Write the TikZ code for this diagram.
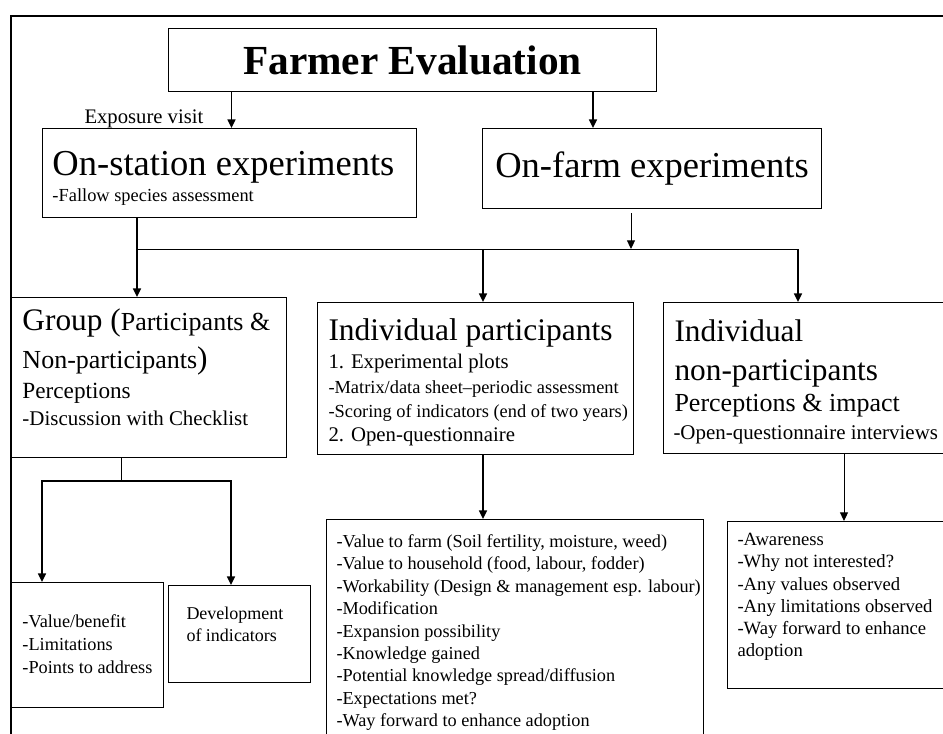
\documentclass[tikz,border=0pt]{standalone}
\usepackage{fontspec}
\setmainfont{Liberation Serif}
\usetikzlibrary{arrows.meta}

\tikzset{every picture/.style={line width=0.75pt}}
\tikzset{
  box/.style={draw, anchor=north west, inner sep=0pt},
  txt/.style={anchor=base west, inner sep=0pt, align=left},
  arr/.style={line width=1.1pt, -{Triangle[length=6.5pt,width=6pt]}},
  arrthin/.style={line width=0.75pt, -{Triangle[length=6.5pt,width=6pt]}},
}
\newcommand{\fsz}[2]{\fontsize{#1}{#2}\selectfont}

\begin{document}
\begin{tikzpicture}[x=0.75pt,y=0.75pt,yscale=-1,xscale=1]
\useasboundingbox (0,0) rectangle (943,733);

%Outer frame
\draw [line width=1.5pt] (11,745) -- (11,16) -- (955,16);

%Boxes
\node [box, minimum width=366pt, minimum height=47.25pt, font=\fsz{31}{36}\bfseries] (fe) at (168,28) {Farmer Evaluation};
\node [box, minimum width=280.5pt, minimum height=66.75pt] (os) at (42,128) {};
\node [box, minimum width=254.25pt, minimum height=60pt, font=\fsz{27.4}{32}] (of) at (482,128) {On-farm experiments};
\node [box, minimum width=206.25pt, minimum height=120pt] (grp) at (11,297) {};
\node [box, minimum width=237pt, minimum height=114pt] (ip) at (317,302) {};
\node [box, minimum width=217.5pt, minimum height=113.25pt] (inp) at (663,302) {};
\node [box, minimum width=114pt, minimum height=93.75pt] (val) at (11,582) {};
\node [box, minimum width=106.5pt, minimum height=72.75pt] (dev) at (168,585) {};
\node [box, minimum width=282.75pt, minimum height=180pt] (lst) at (326,519) {};
\node [box, minimum width=169.5pt, minimum height=125.25pt] (aw) at (727,521) {};

% Text Node (multi-line ones sit on their last baseline)
\node [txt, font=\fsz{15.5}{18}] (expo) at (84,123) {Exposure visit};
\node [txt, font=\fsz{27.4}{32}] (os-t) at (52,175.7) {On-station experiments};
\node [txt, font=\fsz{13.8}{16}] (os-s) at (52,201.7) {-Fallow species assessment};

\node [txt] (grp-t1) at (22,330) {{\fsz{23.5}{28}Group (}{\fsz{19.5}{23}Participants \&}};
\node [txt] (grp-t2) at (22,368.3) {{\fsz{19.5}{23}Non-participants}{\fsz{23.5}{28})}};
\node [txt, font=\fsz{17.4}{20}] (grp-t3) at (22,398.3) {Perceptions};
\node [txt, font=\fsz{15.7}{18}] (grp-t4) at (22,425.7) {-Discussion with Checklist};

\node [txt, font=\fsz{23.6}{28}] (ip-t1) at (328,340) {Individual participants};
\node [txt, font=\fsz{15.6}{18}] (ip-t2) at (328,368.3) {1. Experimental plots};
\node [txt, font=\fsz{13.8}{18}] (ip-t3) at (328,417.3) {-Matrix/data sheet–periodic assessment\\-Scoring of indicators (end of two years)};
\node [txt, font=\fsz{15.6}{18}] (ip-t4) at (328,441.7) {2. Open-questionnaire};

\node [txt, font=\fsz{23.5}{28.7}] (inp-t1) at (674,380) {Individual\\non-participants};
\node [txt, font=\fsz{19.5}{23}] (inp-t2) at (674,411.7) {Perceptions \& impact};
\node [txt, font=\fsz{15.7}{18}] (inp-t3) at (673,439.3) {-Open-questionnaire interviews};

\node [txt, font=\fsz{13.7}{17.2}] (val-t) at (22,673.3) {-Value/benefit\\-Limitations\\-Points to address};
\node [txt, font=\fsz{13.5}{16.3}] (dev-t) at (186,641.7) {Development\\of indicators};

\node [txt, font=\fsz{13.7}{16.8}] (lst-t) at (336,726.7) {-Value to farm (Soil fertility, moisture, weed)\\-Value to household (food, labour, fodder)\\-Workability (Design \& management esp. labour)\\-Modification\\-Expansion possibility\\-Knowledge gained\\-Potential knowledge spread/diffusion\\-Expectations met?\\-Way forward to enhance adoption};

\node [txt, font=\fsz{14}{16.65}] (aw-t) at (737,656.7) {-Awareness\\-Why not interested?\\-Any values observed\\-Any limitations observed\\-Way forward to enhance\\adoption};

%Junctions
\coordinate (c-of) at (593,128);
\coordinate (bus-l) at (137,249);
\coordinate (bus-m) at (631,249);
\coordinate (bus-ip) at (483,249);
\coordinate (bus-r) at (798,249);
\coordinate (split) at (121,481);
\coordinate (split-l) at (42,481);
\coordinate (split-r) at (231,481);
\coordinate (c-aw) at (844,521);

%Straight Lines
\draw [arr] ([xshift=1.5pt]os.north |- fe.south) -- ([xshift=1.5pt]os.north);
\draw [arr] (c-of |- fe.south) -- (c-of);
\draw [arr] (bus-l |- os.south) -- (bus-l |- grp.north);
\draw (bus-l) -- (bus-r);
\draw [arrthin] ([yshift=3pt]bus-m |- of.south) -- (bus-m);
\draw [arr] (bus-ip) -- (bus-ip |- ip.north);
\draw [arr] (bus-r) -- (bus-r |- inp.north);
\draw (split |- grp.south) -- (split);
\draw [arr] (split) -- (split-l) -- (split-l |- val.north);
\draw [arr] (split) -- (split-r) -- (split-r |- dev.north);
\draw [arr] (bus-ip |- ip.south) -- (bus-ip |- lst.north);
\draw [arrthin] (c-aw |- inp.south) -- (c-aw |- aw.north);
\end{tikzpicture}
\end{document}
